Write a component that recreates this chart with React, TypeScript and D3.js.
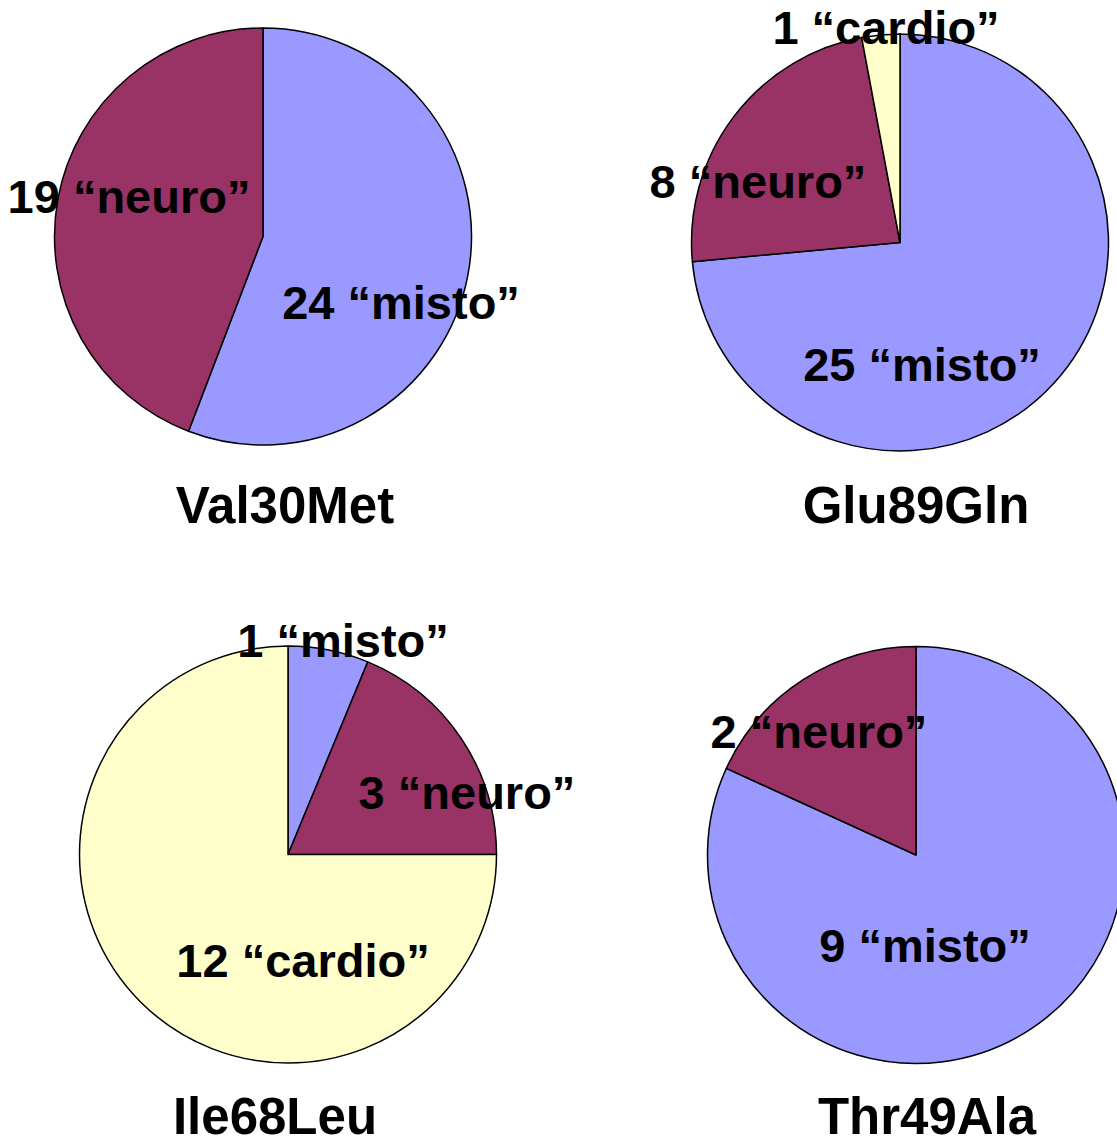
import React from "react";
import * as d3 from "d3";

const mutations = ["Val30Met", "Glu89Gln", "Ile68Leu", "Thr49Ala"];
const categories = ["misto", "neuro", "cardio"];
const mistoCounts = [24, 25, 1, 9];
const neuroCounts = [19, 8, 3, 2];
const cardioCounts = [0, 1, 12, 0];

const colors: Record<string, string> = {
  misto: "#9999FF",
  neuro: "#993366",
  cardio: "#FFFFCC",
};

// layout: pie centres, title positions, and label positions per slice
const layout = [
  { cx: 263, cy: 236.5, title: [285, 523], labels: { misto: [401, 319], neuro: [129, 213] } },
  { cx: 900, cy: 242.5, title: [916, 523], labels: { misto: [922, 381], neuro: [758, 198], cardio: [886, 44] } },
  { cx: 288, cy: 854.5, title: [275, 1134], labels: { misto: [343, 657], neuro: [467, 809], cardio: [303, 977] } },
  { cx: 916, cy: 855, title: [927, 1134], labels: { misto: [925, 962], neuro: [819, 748] } },
];

const W = 1117;
const H = 1139;
const R = 208.5;
const FONT = "'Liberation Sans', Arial, Helvetica, sans-serif";

export default function App() {
  const pie = d3
    .pie<{ cat: string; value: number }>()
    .sort(null)
    .value((d) => d.value);
  const arc = d3
    .arc<d3.PieArcDatum<{ cat: string; value: number }>>()
    .innerRadius(0)
    .outerRadius(R);

  const charts = mutations.map((m, i) => {
    const rows = [
      { cat: categories[0], value: mistoCounts[i] },
      { cat: categories[1], value: neuroCounts[i] },
      { cat: categories[2], value: cardioCounts[i] },
    ];
    return { name: m, rows, arcs: pie(rows), lay: layout[i] };
  });

  return (
    <svg
      width={W}
      height={H}
      style={{ position: "absolute", left: 0, top: 0, background: "#fff" }}
    >
      {charts.map((c) => (
        <g key={c.name} transform={`translate(${c.lay.cx},${c.lay.cy})`}>
          {c.arcs
            .filter((a) => a.data.value > 0)
            .map((a) => (
              <path
                key={a.data.cat}
                d={arc(a) || ""}
                fill={colors[a.data.cat]}
                stroke="#000"
                strokeWidth={1.5}
                strokeLinejoin="round"
              />
            ))}
        </g>
      ))}
      {charts.map((c) => (
        <g key={c.name + "-t"} fontFamily={FONT} fontWeight="bold" fill="#000">
          {c.rows
            .filter((r) => r.value > 0)
            .map((r) => {
              const p = (c.lay.labels as any)[r.cat];
              return (
                <text key={r.cat} x={p[0]} y={p[1]} textAnchor="middle" fontSize={47}>
                  {`${r.value} \u201C${r.cat}\u201D`}
                </text>
              );
            })}
          <text x={c.lay.title[0]} y={c.lay.title[1]} textAnchor="middle" fontSize={51}>
            {c.name}
          </text>
        </g>
      ))}
    </svg>
  );
}
